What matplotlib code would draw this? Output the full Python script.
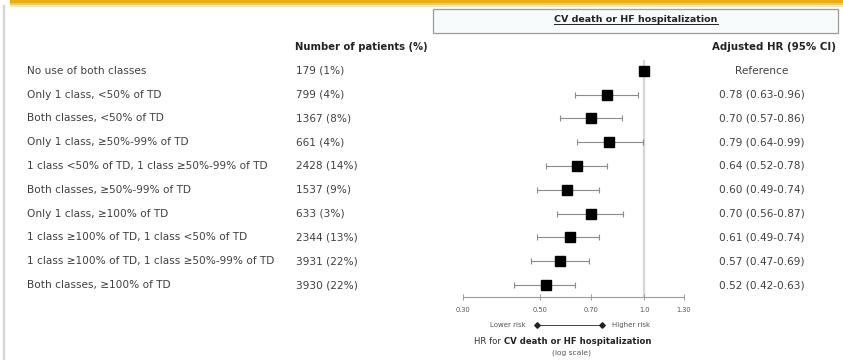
import matplotlib.pyplot as plt
import matplotlib.transforms as mtransforms
from matplotlib.lines import Line2D
from matplotlib.patches import Rectangle

# rows of the forest plot, top to bottom
groups = [
    "No use of both classes",
    "Only 1 class, <50% of TD",
    "Both classes, <50% of TD",
    "Only 1 class, \u226550%-99% of TD",
    "1 class <50% of TD, 1 class \u226550%-99% of TD",
    "Both classes, \u226550%-99% of TD",
    "Only 1 class, \u2265100% of TD",
    "1 class \u2265100% of TD, 1 class <50% of TD",
    "1 class \u2265100% of TD, 1 class \u226550%-99% of TD",
    "Both classes, \u2265100% of TD",
]
patients = ["179 (1%)", "799 (4%)", "1367 (8%)", "661 (4%)", "2428 (14%)",
            "1537 (9%)", "633 (3%)", "2344 (13%)", "3931 (22%)", "3930 (22%)"]
hr = [1.00, 0.78, 0.70, 0.79, 0.64, 0.60, 0.70, 0.61, 0.57, 0.52]
lo = [None, 0.63, 0.57, 0.64, 0.52, 0.49, 0.56, 0.49, 0.47, 0.42]
hi = [None, 0.96, 0.86, 0.99, 0.78, 0.74, 0.87, 0.74, 0.69, 0.63]
ticks = [0.30, 0.50, 0.70, 1.0, 1.30]
tick_labels = ["0.30", "0.50", "0.70", "1.0", "1.30"]

W, H = 843, 360
fig = plt.figure(figsize=(W / 100, H / 100), dpi=100)
plt.rcParams['font.family'] = ['DejaVu Sans']


def fx(x):
    return x / W


def fy(y):
    return 1 - y / H


txt = "#404040"
body = 7.6

# yellow band along the top and grey rule on the left
fig.add_artist(Rectangle((fx(10), fy(3)), 1, 3 / H, transform=fig.transFigure,
                         color="#eead0c", lw=0))
fig.add_artist(Rectangle((fx(10), fy(5)), 1, 2 / H, transform=fig.transFigure,
                         color="#f6cc45", lw=0))
fig.add_artist(Rectangle((fx(10), fy(7)), 1, 2 / H, transform=fig.transFigure,
                         color="#fbe7a6", lw=0))
fig.add_artist(Line2D([fx(4), fx(4)], [0, fy(6)], transform=fig.transFigure,
                      color="#d4d4d4", lw=1.6))

# outcome header box
fig.add_artist(Rectangle((fx(433), fy(33)), fx(838) - fx(433), 24 / H,
                         transform=fig.transFigure, facecolor="#f7fbfb",
                         edgecolor="#9a9a9a", lw=0.9))
title = fig.text(fx(636), fy(20), "CV death or HF hospitalization", ha="center",
                 va="center", fontsize=6.8, fontweight="bold", color="#222222")

fig.text(fx(295), fy(47), "Number of patients (%)", ha="left", va="center",
         fontsize=7.2, fontweight="bold", color="#222222")
fig.text(fx(836), fy(47), "Adjusted HR (95% CI)", ha="right", va="center",
         fontsize=7.4, fontweight="bold", color="#222222")

# forest plot on a log axis
ax = fig.add_axes([fx(463), fy(297), fx(684) - fx(463), (297 - 60) / H])
ax.set_xscale("log")
ax.set_xlim(0.30, 1.30)
ax.set_ylim(9.5, -0.45)
ax.axvline(1.0, color="#d6d6d6", lw=1.6, zorder=0)

for i in range(len(hr)):
    if lo[i] is not None:
        ax.errorbar(hr[i], i, xerr=[[hr[i] - lo[i]], [hi[i] - hr[i]]],
                    fmt="none", ecolor="#8a8a8a", elinewidth=0.8, capsize=2,
                    capthick=0.8, zorder=2)
    ax.plot(hr[i], i, marker="s", color="black", markersize=6.8, zorder=3)

for s in ["top", "right", "left"]:
    ax.spines[s].set_visible(False)
ax.spines["bottom"].set_color("#9a9a9a")
ax.spines["bottom"].set_linewidth(0.8)
ax.set_yticks([])
ax.set_xticks(ticks)
ax.set_xticklabels(tick_labels)
ax.xaxis.set_minor_locator(plt.NullLocator())
ax.tick_params(axis="x", direction="inout", length=4, width=0.7,
               colors="#9a9a9a", labelcolor="#555555", labelsize=4.8, pad=5)
ax.patch.set_alpha(0)

# text columns aligned to the rows
tr = mtransforms.blended_transform_factory(fig.transFigure, ax.transData)
for i, g in enumerate(groups):
    ax.text(fx(27), i, g, transform=tr, ha="left", va="center",
            fontsize=body, color=txt, clip_on=False)
    ax.text(fx(296), i, patients[i], transform=tr, ha="left", va="center",
            fontsize=body, color=txt, clip_on=False)
    if lo[i] is None:
        label = "Reference"
    else:
        label = f"{hr[i]:.2f} ({lo[i]:.2f}-{hi[i]:.2f})"
    ax.text(fx(762), i, label, transform=tr, ha="center", va="center",
            fontsize=body, color=txt, clip_on=False)

# risk direction arrow under the axis
fig.add_artist(Line2D([fx(537), fx(602)], [fy(325), fy(325)],
                      transform=fig.transFigure, color="#444444", lw=0.7))
fig.add_artist(Line2D([fx(537), fx(602)], [fy(325), fy(325)],
                      transform=fig.transFigure, color="#222222", lw=0,
                      marker="D", markersize=2.8))
fig.text(fx(526), fy(325), "Lower risk", ha="right", va="center",
         fontsize=5, color="#555555")
fig.text(fx(612), fy(325), "Higher risk", ha="left", va="center",
         fontsize=5, color="#555555")

fig.text(fx(504), fy(341), "HR for ", ha="right", va="center",
         fontsize=6.1, color="#333333")
fig.text(fx(504), fy(341), "CV death or HF hospitalization", ha="left",
         va="center", fontsize=6.1, fontweight="bold", color="#222222")
fig.text(fx(571), fy(353), "(log scale)", ha="center", va="center",
         fontsize=5.4, color="#555555")

# underline the box title
fig.canvas.draw()
bb = title.get_window_extent().transformed(fig.transFigure.inverted())
fig.add_artist(Line2D([bb.x0, bb.x1], [bb.y0 + 0.002, bb.y0 + 0.002],
                      transform=fig.transFigure, color="#222222", lw=0.7))

fig.savefig("out.png", dpi=100)
